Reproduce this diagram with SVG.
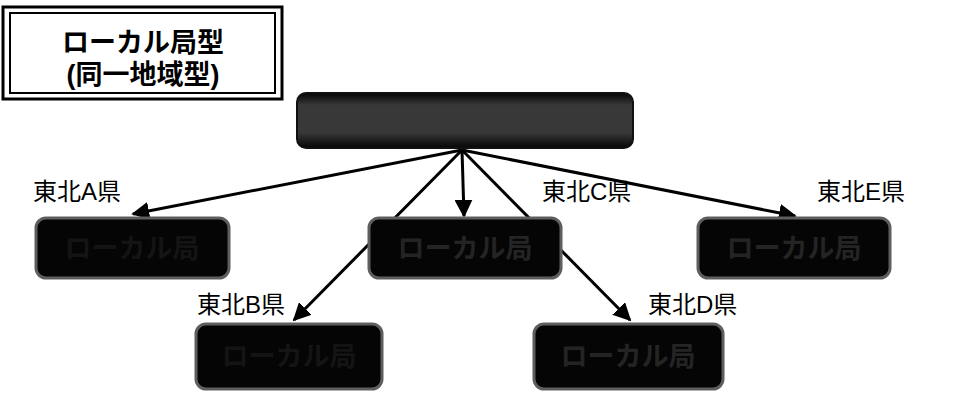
<svg xmlns="http://www.w3.org/2000/svg" width="966" height="398" viewBox="0 0 966 398">
<style>
.lbl{font-family:"Liberation Sans","Noto Sans CJK JP",sans-serif;font-size:24px;fill:#000}
.ttl{font-family:"Liberation Sans","Noto Sans CJK JP",sans-serif;font-size:27px;font-weight:bold;fill:#000}
.box{fill:#050505;stroke:#5e5e5e;stroke-width:3}
.btxt{font-family:"Liberation Sans","Noto Sans CJK JP",sans-serif;font-size:27px;font-weight:bold;fill:#242424}
.conn line{stroke:#000;stroke-width:3}
</style>
<defs>
<marker id="ah" viewBox="0 0 10 10" refX="9" refY="5" markerWidth="6" markerHeight="6" markerUnits="strokeWidth" orient="auto">
<path d="M0,0 L10,5 L0,10 z" fill="#000"/>
</marker>
<linearGradient id="topg" x1="0" y1="0" x2="0" y2="1">
<stop offset="0" stop-color="#050505"/>
<stop offset="0.22" stop-color="#383838"/>
<stop offset="0.72" stop-color="#383838"/>
<stop offset="1" stop-color="#050505"/>
</linearGradient>
</defs>
<rect width="966" height="398" fill="#fff"/>
<g id="title">
<rect x="3" y="7" width="279" height="92" fill="#fff" stroke="#000" stroke-width="3"/>
<rect x="10" y="13" width="265" height="80" fill="none" stroke="#000" stroke-width="2"/>
<text class="ttl" x="143" y="52" text-anchor="middle">ローカル局型</text>
<text class="ttl" x="143" y="84" text-anchor="middle">(同一地域型)</text>
</g>
<g id="connectors" class="conn">
<line x1="462" y1="150" x2="133" y2="214" marker-end="url(#ah)"/>
<line x1="462" y1="150" x2="294" y2="320" marker-end="url(#ah)"/>
<line x1="462" y1="150" x2="464" y2="216" marker-end="url(#ah)"/>
<line x1="462" y1="150" x2="630" y2="320" marker-end="url(#ah)"/>
<line x1="462" y1="150" x2="795" y2="216" marker-end="url(#ah)"/>
</g>
<g id="top">
<rect x="297" y="93" width="336" height="55" rx="9" fill="url(#topg)" stroke="#111" stroke-width="2"/>
</g>
<g id="boxA">
<rect class="box" x="36" y="218" width="193" height="60" rx="10"/>
<text class="btxt" x="132" y="258" text-anchor="middle" fill-opacity="0.5">ローカル局</text>
</g>
<g id="boxC">
<rect class="box" x="369" y="218" width="192" height="60" rx="10"/>
<text class="btxt" x="465" y="258" text-anchor="middle">ローカル局</text>
</g>
<g id="boxE">
<rect class="box" x="698" y="218" width="192" height="60" rx="10"/>
<text class="btxt" x="794" y="258" text-anchor="middle">ローカル局</text>
</g>
<g id="boxB">
<rect class="box" x="196" y="324" width="186" height="65" rx="10"/>
<text class="btxt" x="289" y="366" text-anchor="middle" fill-opacity="0.5">ローカル局</text>
</g>
<g id="boxD">
<rect class="box" x="534" y="324" width="189" height="65" rx="10"/>
<text class="btxt" x="628" y="366" text-anchor="middle">ローカル局</text>
</g>
<g id="labels">
<text class="lbl" x="33" y="200">東北A県</text>
<text class="lbl" x="542" y="200">東北C県</text>
<text class="lbl" x="817" y="200">東北E県</text>
<text class="lbl" x="197" y="313">東北B県</text>
<text class="lbl" x="648" y="313">東北D県</text>
</g>
</svg>
